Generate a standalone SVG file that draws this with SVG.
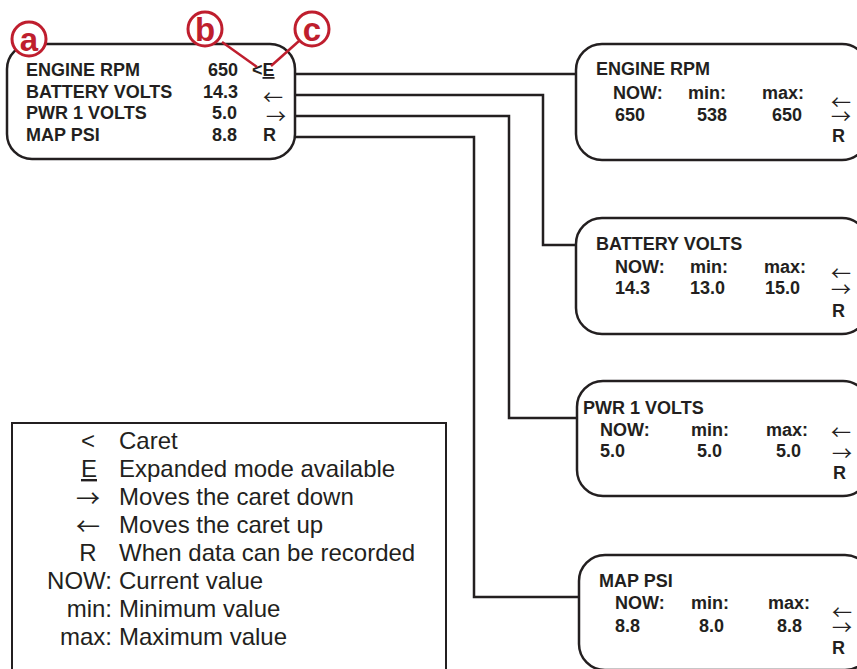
<svg xmlns="http://www.w3.org/2000/svg" width="857" height="669" viewBox="0 0 857 669">
<style>
.box{fill:#fff;stroke:#231f20;stroke-width:2.5}
.leg{fill:#fff;stroke:#231f20;stroke-width:2}
.con{fill:none;stroke:#231f20;stroke-width:2.5}
.b{font-family:"Liberation Sans",Arial,sans-serif;font-weight:bold;font-size:18px;fill:#231f20}
.ar{font-family:"Noto Sans CJK JP",sans-serif;font-size:20px;fill:#231f20}
.l{font-family:"Liberation Sans",Arial,sans-serif;font-size:24px;fill:#231f20}
.lar{font-family:"Noto Sans CJK JP",sans-serif;font-size:24px;fill:#231f20}
.red{fill:#fff;stroke:#bf1e2e;stroke-width:3}
.redl{stroke:#bf1e2e;stroke-width:2.5}
.rt{font-family:"Liberation Sans",Arial,sans-serif;font-weight:bold;font-size:33px;fill:#bf1e2e;text-anchor:middle}
</style>
<rect width="857" height="669" fill="#fff"/>
<g id="connectors">
<path class="con" d="M295,74 H576"/>
<path class="con" d="M295,95 H543 V245 H576"/>
<path class="con" d="M295,116 H509 V418 H577"/>
<path class="con" d="M295,137 H474 V597 H579"/>
</g>
<g id="main">
<rect class="box" x="7" y="44" width="288" height="115" rx="25"/>
<text class="b" x="26" y="76">ENGINE RPM</text>
<text class="b" x="26" y="98">BATTERY VOLTS</text>
<text class="b" x="26" y="119">PWR 1 VOLTS</text>
<text class="b" x="26" y="141">MAP PSI</text>
<text class="b" x="238" y="76" text-anchor="end">650</text>
<text class="b" x="238" y="98" text-anchor="end">14.3</text>
<text class="b" x="237" y="119" text-anchor="end">5.0</text>
<text class="b" x="237" y="141" text-anchor="end">8.8</text>
<text class="b" x="252" y="76">&lt;<tspan text-decoration="underline">E</tspan></text>
<text class="ar" x="263" y="105">←</text>
<text class="ar" x="266" y="124">→</text>
<text class="b" x="263" y="141">R</text>
</g>
<g id="rpm">
<rect class="box" x="576" y="44" width="292" height="116" rx="26"/>
<text class="b" x="596" y="75">ENGINE RPM</text>
<text class="b" x="613" y="99">NOW:</text>
<text class="b" x="688" y="99">min:</text>
<text class="b" x="762" y="99">max:</text>
<text class="b" x="615" y="121">650</text>
<text class="b" x="697" y="121">538</text>
<text class="b" x="772" y="121">650</text>
<text class="ar" x="831" y="110">←</text>
<text class="ar" x="831" y="124">→</text>
<text class="b" x="832" y="142">R</text>
</g>
<g id="battery">
<rect class="box" x="576" y="218" width="292" height="116" rx="26"/>
<text class="b" x="596" y="250">BATTERY VOLTS</text>
<text class="b" x="615" y="273">NOW:</text>
<text class="b" x="690" y="273">min:</text>
<text class="b" x="764" y="273">max:</text>
<text class="b" x="615" y="294">14.3</text>
<text class="b" x="690" y="294">13.0</text>
<text class="b" x="765" y="294">15.0</text>
<text class="ar" x="831" y="281">←</text>
<text class="ar" x="831" y="297">→</text>
<text class="b" x="832" y="317">R</text>
</g>
<g id="pwr">
<rect class="box" x="577" y="381" width="292" height="115" rx="26"/>
<text class="b" x="583" y="414">PWR 1 VOLTS</text>
<text class="b" x="600" y="436">NOW:</text>
<text class="b" x="691" y="436">min:</text>
<text class="b" x="766" y="436">max:</text>
<text class="b" x="600" y="457">5.0</text>
<text class="b" x="697" y="457">5.0</text>
<text class="b" x="776" y="457">5.0</text>
<text class="ar" x="831" y="440">←</text>
<text class="ar" x="832" y="461">→</text>
<text class="b" x="833" y="479">R</text>
</g>
<g id="map">
<rect class="box" x="579" y="555" width="292" height="115" rx="26"/>
<text class="b" x="599" y="587">MAP PSI</text>
<text class="b" x="615" y="609">NOW:</text>
<text class="b" x="691" y="609">min:</text>
<text class="b" x="768" y="609">max:</text>
<text class="b" x="615" y="632">8.8</text>
<text class="b" x="699" y="632">8.0</text>
<text class="b" x="777" y="632">8.8</text>
<text class="ar" x="832" y="620">←</text>
<text class="ar" x="832" y="635">→</text>
<text class="b" x="832" y="654">R</text>
</g>
<g id="legend">
<rect class="leg" x="12" y="423" width="434" height="260"/>
<text class="l" x="88" y="449" text-anchor="middle">&lt;</text>
<text class="l" x="89" y="477" text-anchor="middle" text-decoration="underline">E</text>
<text class="lar" x="88" y="507" text-anchor="middle">→</text>
<text class="lar" x="88" y="535" text-anchor="middle">←</text>
<text class="l" x="88" y="561" text-anchor="middle">R</text>
<text class="l" x="112" y="589" text-anchor="end">NOW:</text>
<text class="l" x="112" y="617" text-anchor="end">min:</text>
<text class="l" x="112" y="645" text-anchor="end">max:</text>
<text class="l" x="119" y="449">Caret</text>
<text class="l" x="119" y="477">Expanded mode available</text>
<text class="l" x="119" y="505">Moves the caret down</text>
<text class="l" x="119" y="533">Moves the caret up</text>
<text class="l" x="119" y="561">When data can be recorded</text>
<text class="l" x="119" y="589">Current value</text>
<text class="l" x="119" y="617">Minimum value</text>
<text class="l" x="119" y="645">Maximum value</text>
</g>
<g id="callouts">
<line class="redl" x1="222" y1="42" x2="257" y2="67"/>
<line class="redl" x1="299" y1="41" x2="271" y2="66"/>
<g id="callout-a"><circle class="red" cx="29" cy="39" r="17"/><text class="rt" x="29" y="51">a</text></g>
<g id="callout-b"><circle class="red" cx="205" cy="29" r="17"/><text class="rt" x="205" y="41">b</text></g>
<g id="callout-c"><circle class="red" cx="312" cy="29" r="17"/><text class="rt" x="312" y="41">c</text></g>
</g>
</svg>
